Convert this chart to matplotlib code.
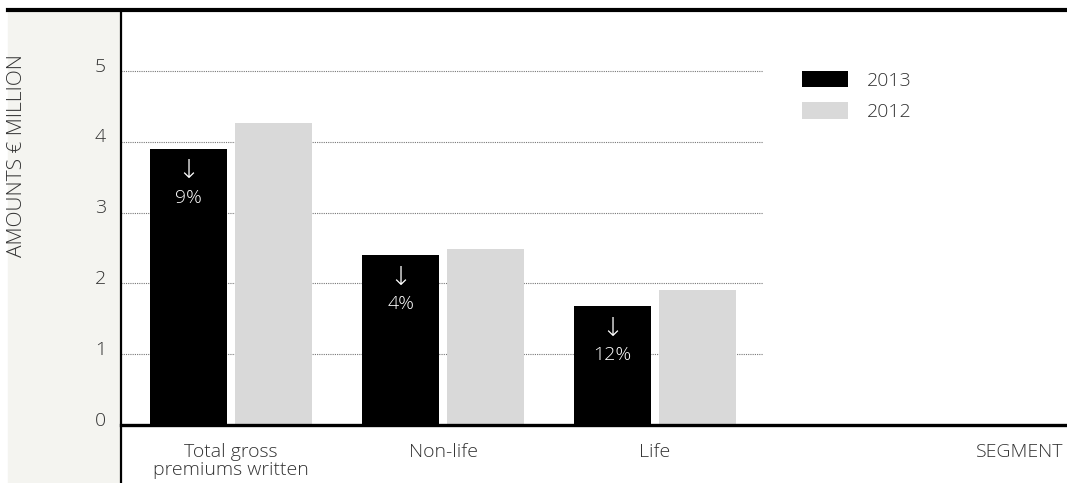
import matplotlib
matplotlib.use("Agg")
import matplotlib.pyplot as plt
from matplotlib.lines import Line2D
from matplotlib.patches import Rectangle
import numpy as np

# Chart data
segments = ["Total gross\npremiums written", "Non-life", "Life"]
values_2013 = [3.90, 2.40, 1.68]
values_2012 = [4.27, 2.49, 1.91]
changes = ["9%", "4%", "12%"]
yticks = [0, 1, 2, 3, 4, 5]

plt.rcParams['font.family'] = ['Open Sans', 'DejaVu Sans']
plt.rcParams['font.weight'] = 'light'
text_color = '#333333'
fs = 14

W, H = 1067, 483
fig = plt.figure(figsize=(W / 100, H / 100), dpi=100)

# grey panel on the left for the y axis
fig.add_artist(Rectangle((8 / W, 0), (121 - 8) / W, 1 - 10 / H,
                         transform=fig.transFigure, color='#f4f4f0', zorder=0))

ax = fig.add_axes([121 / W, (H - 425) / H, (W - 121) / W, (425 - 10) / H])
ax.set_facecolor('none')
for s in ax.spines.values():
    s.set_visible(False)

x = np.arange(len(segments))
width = 0.363
offset = 0.2
bars13 = ax.bar(x - offset, values_2013, width, color='#000000', label='2013', zorder=3)
bars12 = ax.bar(x + offset, values_2012, width, color='#d9d9d9', label='2012', zorder=3)

ax.set_xlim(-0.519, 3.943)
ax.set_ylim(0, 5.86)

# dotted gridlines, stopping before the legend
ax.hlines(yticks[1:], -0.519, 2.509, colors='#777777', linestyles=(0, (1, 1)),
          linewidth=0.8, zorder=1)
ax.axhline(0, color='#000000', linewidth=2.4, zorder=4, clip_on=False)

# y tick labels
ax.set_yticks([])
for v in yticks:
    ax.text(-0.016, v + 0.06, str(v), transform=ax.get_yaxis_transform(),
            ha='right', va='center', fontsize=fs, color=text_color)

# x tick labels
ax.set_xticks(x)
ax.set_xticklabels(segments, fontsize=fs, color=text_color, linespacing=1.0)
ax.tick_params(axis='x', length=0, pad=13)

# change labels inside the 2013 bars
for xi, v, c in zip(x, values_2013, changes):
    ax.text(xi - offset, v - 0.31, '\u2193', ha='center', va='center',
            color='white', fontsize=19, family=['DejaVu Sans'], weight='light', zorder=5)
    ax.text(xi - offset, v - 0.69, c, ha='center', va='center',
            color='white', fontsize=fs, zorder=5)

ax.legend(loc='upper left', bbox_to_anchor=(802 / W, 1 - 71 / H),
          bbox_transform=fig.transFigure, frameon=False, fontsize=fs,
          handlelength=2.35, handleheight=0.9, handletextpad=1.0,
          labelspacing=0.65, borderpad=0, borderaxespad=0, labelcolor=text_color)

# frame lines
fig.add_artist(Line2D([8 / W, 1], [1 - 10 / H, 1 - 10 / H], color='#000000',
                      linewidth=3, transform=fig.transFigure))
fig.add_artist(Line2D([121 / W, 121 / W], [0, 1 - 10 / H], color='#000000',
                      linewidth=1.6, transform=fig.transFigure))

fig.text(17 / W, 1 - 156 / H, 'AMOUNTS € MILLION', rotation=90, ha='center',
         va='center', fontsize=15, color=text_color)
fig.text(1063 / W, 1 - 452 / H, 'SEGMENT', ha='right', va='center',
         fontsize=fs, color=text_color)

fig.savefig('out.png', dpi=100)
